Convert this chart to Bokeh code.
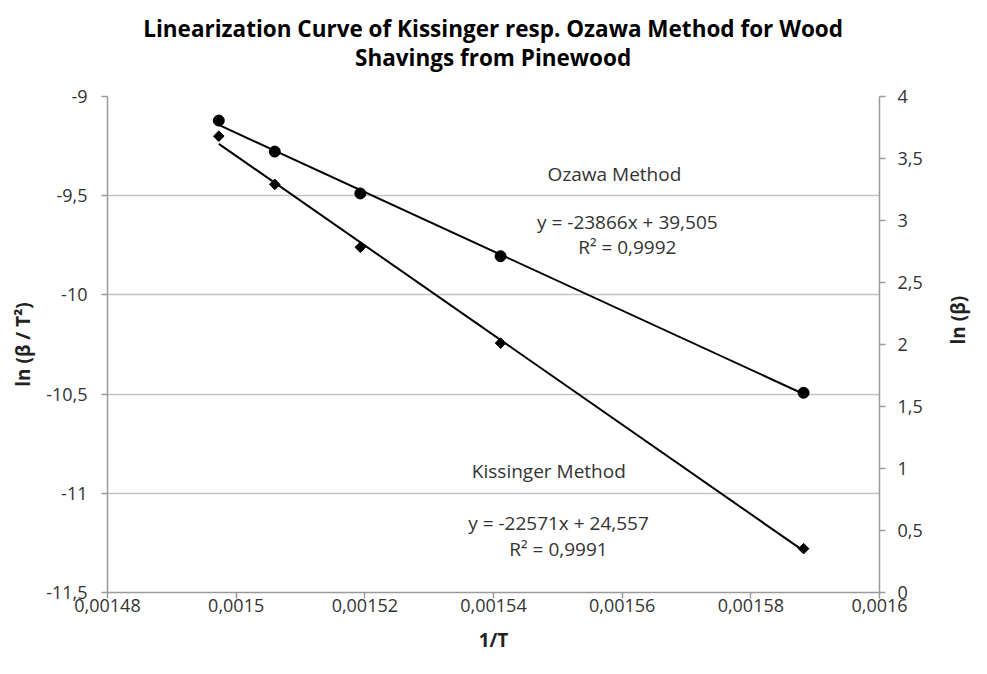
import math
from bokeh.plotting import figure
from bokeh.layouts import column
from bokeh.models import Range1d, LinearAxis, FixedTicker, Label
from bokeh.embed import file_html
from bokeh.resources import INLINE

# ---- data ----
inv_T = [0.0014973, 0.0015060, 0.0015193, 0.0015411, 0.0015882]
kissinger = [-9.200, -9.443, -9.760, -10.243, -11.279]   # ln(beta/T^2), left axis
ozawa = [3.806, 3.556, 3.218, 2.712, 1.611]              # ln(beta), right axis

kiss_slope, kiss_intercept = -22571, 24.557
oza_slope, oza_intercept = -23866, 39.505

x_ticks = [0.00148, 0.0015, 0.00152, 0.00154, 0.00156, 0.00158, 0.0016]
x_tick_labels = ["0,00148", "0,0015", "0,00152", "0,00154", "0,00156", "0,00158", "0,0016"]
left_ticks = [-11.5, -11, -10.5, -10, -9.5, -9]
left_tick_labels = ["-11,5", "-11", "-10,5", "-10", "-9,5", "-9"]
right_ticks = [0, 0.5, 1, 1.5, 2, 2.5, 3, 3.5, 4]
right_tick_labels = ["0", "0,5", "1", "1,5", "2", "2,5", "3", "3,5", "4"]

title_lines = ["Linearization Curve of Kissinger resp. Ozawa Method for Wood",
               "Shavings from Pinewood"]
x_title = "1/T"
y_title_left = "ln (β / T²)"
y_title_right = "ln (β)"

FONT = "Open Sans"
AX = "#9a9a9a"
TXT = "#333333"
W = 987

# ---- title strip ----
t = figure(width=W, height=80, output_backend="svg", toolbar_location=None,
           x_range=Range1d(0, W), y_range=Range1d(80, 0),
           min_border=0, x_axis_location=None, y_axis_location=None)
t.outline_line_color = None
t.xgrid.visible = False
t.ygrid.visible = False
for i, line in enumerate(title_lines):
    t.add_layout(Label(x=493, y=28 + 29 * i, text=line, text_align="center",
                       text_baseline="middle", text_font=FONT, text_font_size="22.5px",
                       text_font_style="bold", text_color="black"))

# ---- main chart ----
p = figure(width=W, height=586, output_backend="svg", toolbar_location=None,
           x_range=Range1d(x_ticks[0], x_ticks[-1]),
           y_range=Range1d(left_ticks[0], left_ticks[-1]),
           min_border_left=107, min_border_right=W - 879,
           min_border_top=16, min_border_bottom=74,
           x_axis_label=x_title, y_axis_label=y_title_left)
p.outline_line_color = None
p.background_fill_color = "white"
p.extra_y_ranges = {"right": Range1d(right_ticks[0], right_ticks[-1])}
raxis = LinearAxis(y_range_name="right", axis_label=y_title_right)
p.add_layout(raxis, "right")

p.xaxis.ticker = FixedTicker(ticks=x_ticks)
p.xaxis.major_label_overrides = dict(zip(x_ticks, x_tick_labels))
p.yaxis[0].ticker = FixedTicker(ticks=left_ticks)
p.yaxis[0].major_label_overrides = dict(zip(left_ticks, left_tick_labels))
raxis.ticker = FixedTicker(ticks=right_ticks)
raxis.major_label_overrides = dict(zip(right_ticks, right_tick_labels))

for ax in [p.xaxis[0], p.yaxis[0], raxis]:
    ax.axis_line_color = AX
    ax.axis_line_width = 1.5
    ax.major_tick_line_color = AX
    ax.major_tick_line_width = 1.5
    ax.major_tick_out = 6
    ax.major_tick_in = 0
    ax.minor_tick_line_color = None
    ax.major_label_text_font = FONT
    ax.major_label_text_font_size = "18px"
    ax.major_label_text_color = TXT
    ax.axis_label_text_font = FONT
    ax.axis_label_text_font_size = "19px"
    ax.axis_label_text_font_style = "bold"
    ax.axis_label_text_color = "#222222"

p.yaxis[0].major_label_standoff = 14
p.yaxis[0].axis_label_standoff = 7
raxis.major_label_standoff = 12
raxis.axis_label_standoff = 32
raxis.axis_label_orientation = math.pi / 2
p.xaxis[0].major_label_standoff = 0
p.xaxis[0].axis_label_standoff = 12

p.xgrid.visible = False
p.ygrid.grid_line_color = "#c4c4c4"
p.ygrid.grid_line_width = 1.5

# trendlines
x_fit = [inv_T[0], inv_T[-1]]
p.line(x_fit, [kiss_slope * x + kiss_intercept for x in x_fit], line_color="black", line_width=2)
p.line(x_fit, [oza_slope * x + oza_intercept for x in x_fit], line_color="black", line_width=2,
       y_range_name="right")

# points
p.scatter(inv_T, kissinger, marker="square", size=7.5, angle=0.785398,
          fill_color="black", line_color="black")
p.scatter(inv_T, ozawa, marker="circle", size=11, fill_color="black", line_color="black",
          y_range_name="right")

def lab(x, y, txt):
    p.add_layout(Label(x=x, y=y, text=txt, text_align="center", text_baseline="middle",
                       text_font=FONT, text_font_size="19px", text_color=TXT))

lab(0.0015588, -9.393, "Ozawa Method")
lab(0.0015608, -9.635, "y = -23866x + 39,505")
lab(0.0015608, -9.761, "R² = 0,9992")
lab(0.0015486, -10.890, "Kissinger Method")
lab(0.0015501, -11.152, "y = -22571x + 24,557")
lab(0.0015501, -11.283, "R² = 0,9991")

open("out.html", "w").write(file_html(column(t, p, spacing=0), INLINE))
